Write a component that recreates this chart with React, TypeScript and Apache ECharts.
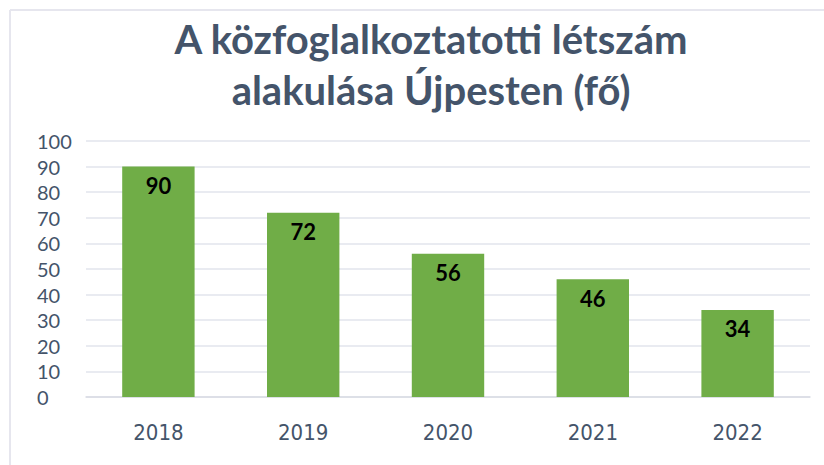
import React, { useEffect, useRef } from "react";
import * as echarts from "echarts";

const categories = ["2018", "2019", "2020", "2021", "2022"];
const values = [90, 72, 56, 46, 34];
const titleLines = ["A közfoglalkoztatotti létszám", "alakulása Újpesten (fő)"];

export default function App() {
  const ref = useRef<HTMLDivElement>(null);
  useEffect(() => {
    const chart = echarts.init(ref.current!, null, { renderer: "svg" });
    chart.setOption({
      animation: false,
      backgroundColor: "#ffffff",
      title: {
        text: titleLines.join("\n"),
        left: 426,
        top: 8,
        textAlign: "center",
        textStyle: {
          fontFamily: "Lato, 'Open Sans', sans-serif",
          fontWeight: "bold",
          fontSize: 40,
          lineHeight: 51,
          color: "#44546A",
        },
      },
      graphic: [
        { type: "line", shape: { x1: 10, y1: 10, x2: 824, y2: 10 }, style: { stroke: "#E6E6EE", lineWidth: 2 } },
        { type: "line", shape: { x1: 10, y1: 10, x2: 10, y2: 465 }, style: { stroke: "#E6E6EE", lineWidth: 2 } },
      ],
      grid: { left: 86, right: 14, top: 141, bottom: 68 },
      xAxis: {
        type: "category",
        data: categories,
        axisTick: { show: false },
        axisLine: { lineStyle: { color: "#D9DCE3", width: 1.5 } },
        axisLabel: {
          margin: 24,
          fontSize: 22,
          fontFamily: "'Liberation Sans Narrow', 'DejaVu Sans Condensed', Lato, sans-serif",
          color: "#44546A",
        },
      },
      yAxis: {
        type: "value",
        min: 0,
        max: 100,
        interval: 10,
        axisLine: { show: false },
        axisTick: { show: false },
        splitLine: { lineStyle: { color: "#E2E5EC", width: 1.5 } },
        axisLabel: {
          align: "left",
          margin: 49,
          fontSize: 20,
          fontFamily: "Lato, 'Open Sans', sans-serif",
          color: "#44546A",
        },
      },
      series: [
        {
          type: "bar",
          data: values,
          barWidth: "50%",
          itemStyle: { color: "#70AD47" },
          label: {
            show: true,
            position: "insideTop",
            distance: 8,
            fontSize: 22,
            fontWeight: "bold",
            fontFamily: "Lato, 'Open Sans', sans-serif",
            color: "#000000",
          },
        },
      ],
    });
    return () => chart.dispose();
  }, []);
  return <div ref={ref} style={{ width: 824, height: 465, position: "fixed", left: 0, top: 0 }} />;
}
